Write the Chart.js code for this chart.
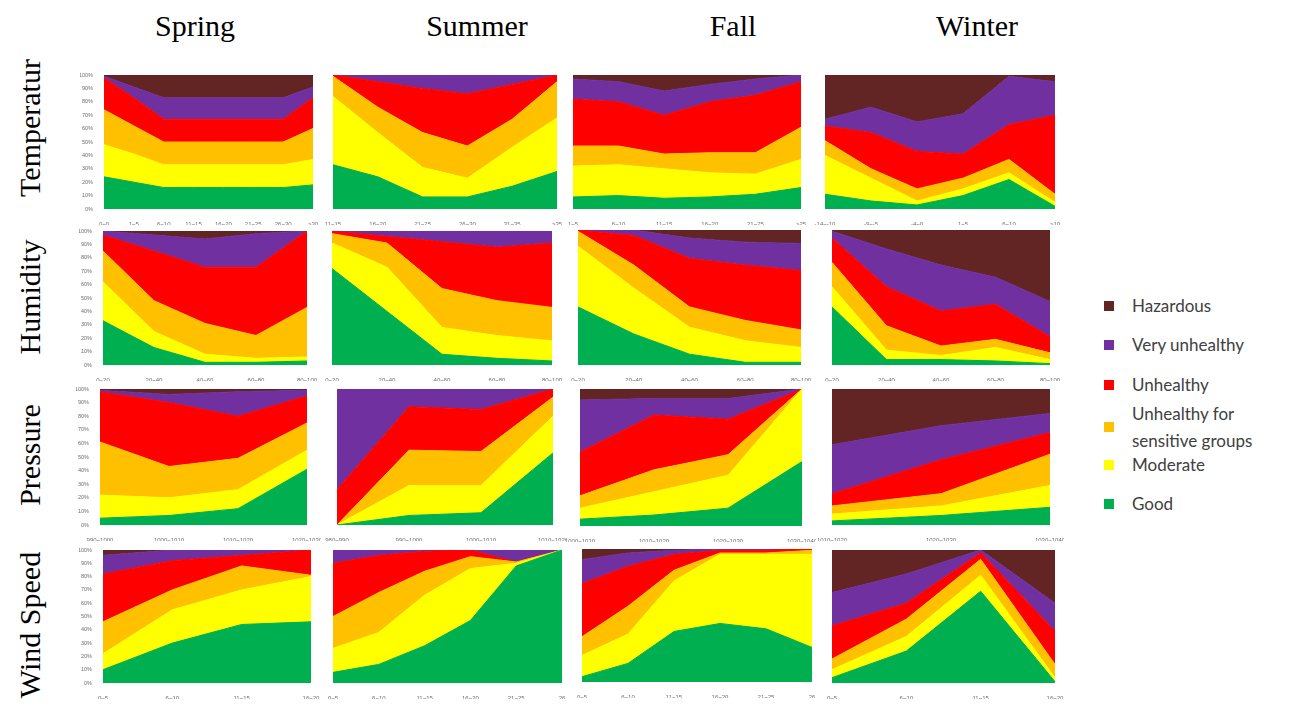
<!DOCTYPE html>
<html>
<head>
<meta charset="utf-8">
<script src="https://cdn.jsdelivr.net/npm/chart.js@4.4.1/dist/chart.umd.min.js"></script>
<style>
  body { margin: 0; width: 1299px; height: 708px; background: #fff; position: relative; overflow: hidden;
         font-family: "Liberation Serif", "Times New Roman", serif; }
  .panel { position: absolute; }
  .col-title { position: absolute; top: 9px; font-size: 30px; transform: translateX(-50%); white-space: nowrap; color: #000; }
  .row-title { position: absolute; font-size: 30px; transform: translate(-50%, -50%) rotate(-90deg); white-space: nowrap; color: #000; }
  .legend-item { position: absolute; left: 1104px; font-family: Lato, "Open Sans", sans-serif; font-size: 17px; color: #404040; line-height: 27px; }
  .legend-item span.box { position: absolute; left: 0; width: 10px; height: 10px; }
  .legend-item span.txt { position: absolute; left: 28px; white-space: nowrap; }
</style>
</head>
<body>

<div class="col-title" style="left:195px">Spring</div>
<div class="col-title" style="left:477px">Summer</div>
<div class="col-title" style="left:733px">Fall</div>
<div class="col-title" style="left:977px">Winter</div>

<div class="row-title" style="left:30px; top:128px">Temperatur</div>
<div class="row-title" style="left:30px; top:297px">Humidity</div>
<div class="row-title" style="left:30px; top:455px">Pressure</div>
<div class="row-title" style="left:30px; top:625px">Wind Speed</div>

<div id="legend"></div>

<script>
// AQI levels, bottom to top
const levels = ["Good", "Moderate", "Unhealthy for sensitive groups", "Unhealthy", "Very unhealthy", "Hazardous"];
const levelColors = ["#00B050", "#FFFF00", "#FFC000", "#FF0000", "#7030A0", "#632523"];

// x labels
const tempSpringLabels = ["0~0", "1~5", "6~10", "11~15", "16~20", "21~25", "26~30", ">30"];
const tempSummerLabels = ["11~15", "16~20", "21~25", "26~30", "31~35", ">35"];
const tempFallLabels = ["1~5", "6~10", "11~15", "16~20", "21~25", ">25"];
const tempWinterLabels = ["-14~-10", "-9~-5", "-4~0", "1~5", "6~10", ">10"];
const humidityLabels = ["0~20", "20~40", "40~60", "60~80", "80~100"];
const presSpringLabels = ["990~1000", "1000~1010", "1010~1020", "1020~1030"];
const presSummerLabels = ["980~990", "990~1000", "1000~1010", "1010~1020"];
const presFallLabels = ["1000~1010", "1010~1020", "1020~1030", "1030~1040"];
const presWinterLabels = ["1010~1020", "1020~1030", "1030~1040"];
const windShortLabels = ["0~5", "6~10", "11~15", "16~20"];
const windLongLabels = ["0~5", "6~10", "11~15", "16~20", "21~25", "26"];

// shares (%) per level: Good, Moderate, USG, Unhealthy, Very unhealthy, Hazardous
const tempSpring = [
  [24, 20, 16, 16, 16, 16, 16, 18],
  [24, 21, 17, 17, 17, 17, 17, 19],
  [26, 21, 17, 17, 17, 17, 17, 23],
  [24, 21, 17, 17, 17, 17, 17, 23],
  [1, 8, 16, 16, 16, 16, 16, 8],
  [1, 9, 17, 17, 17, 17, 17, 9]
];
const tempSummer = [
  [33, 24, 9, 9, 17, 28],
  [51, 33, 22, 14, 29, 40],
  [15, 19, 26, 24, 21, 27],
  [1, 19, 33, 39, 26, 5],
  [0, 5, 10, 14, 7, 0],
  [0, 0, 0, 0, 0, 0]
];
const tempFall = [
  [9, 10, 8, 9, 11, 16],
  [23, 23, 22, 18, 15, 21],
  [15, 14, 11, 15, 16, 24],
  [35, 33, 29, 38, 43, 34],
  [15, 15, 18, 13, 12, 5],
  [3, 5, 12, 7, 3, 0]
];
const tempWinter = [
  [11, 6, 3, 10, 22, 2],
  [29, 17, 3, 5, 5, 3],
  [11, 7, 9, 8, 10, 6],
  [11, 27, 28, 18, 26, 59],
  [5, 19, 22, 30, 36, 25],
  [33, 24, 35, 29, 1, 5]
];
const humSpring = [
  [33, 13, 2, 2, 3],
  [29, 12, 6, 3, 3],
  [23, 23, 23, 17, 37],
  [12, 37, 42, 51, 57],
  [3, 12, 21, 25, 0],
  [0, 3, 6, 2, 0]
];
const humSummer = [
  [72, 40, 8, 5, 3],
  [19, 33, 20, 17, 15],
  [7, 18, 29, 26, 25],
  [2, 5, 35, 40, 48],
  [0, 4, 8, 12, 9],
  [0, 0, 0, 0, 0]
];
const humFall = [
  [43, 23, 8, 2, 2],
  [45, 34, 20, 16, 11],
  [11, 17, 15, 15, 13],
  [1, 22, 36, 41, 44],
  [0, 4, 15, 17, 20],
  [0, 0, 6, 9, 10]
];
const humWinter = [
  [43, 4, 4, 3, 1],
  [15, 7, 3, 10, 3],
  [18, 18, 7, 6, 5],
  [18, 29, 26, 26, 12],
  [5, 28, 34, 20, 26],
  [1, 14, 26, 35, 53]
];
const presSpring = [
  [5, 7, 12, 41],
  [17, 13, 14, 14],
  [39, 23, 23, 20],
  [37, 47, 31, 20],
  [1, 6, 18, 4],
  [1, 4, 2, 1]
];
const presSummer = [
  [0, 7, 9, 53],
  [0, 22, 20, 27],
  [0, 26, 25, 14],
  [26, 32, 31, 6],
  [74, 13, 15, 0],
  [0, 0, 0, 0]
];
const presFall = [
  [5, 8, 13, 47],
  [8, 17, 24, 53],
  [9, 16, 15, 0],
  [32, 40, 26, 0],
  [38, 12, 15, 0],
  [8, 7, 7, 0]
];
const presWinter = [
  [3, 7, 13],
  [5, 7, 16],
  [6, 9, 23],
  [9, 25, 16],
  [36, 25, 14],
  [41, 27, 18]
];
const windSpring = [
  [10, 30, 44, 46],
  [12, 25, 26, 34],
  [24, 15, 18, 1],
  [36, 22, 8, 19],
  [14, 8, 4, 0],
  [4, 0, 0, 0]
];
const windSummer = [
  [8, 14, 28, 47, 88, 100],
  [18, 24, 38, 39, 2, 0],
  [24, 30, 18, 9, 1, 0],
  [40, 28, 15, 5, 0, 0],
  [10, 4, 1, 0, 9, 0],
  [0, 0, 0, 0, 0, 0]
];
const windFall = [
  [4, 14, 38, 44, 40, 26],
  [16, 22, 38, 52, 56, 70],
  [14, 21, 8, 1, 1, 3],
  [40, 30, 12, 2, 2, 1],
  [18, 10, 3, 1, 1, 0],
  [8, 3, 1, 0, 0, 0]
];
const windWinter = [
  [4, 24, 69, 1],
  [6, 11, 12, 3],
  [8, 13, 12, 10],
  [25, 12, 5, 25],
  [25, 22, 2, 21],
  [32, 18, 0, 40]
];

// plot areas on the page: [left, top, right, bottom]
const panels = [
  { labels: tempSpringLabels, values: tempSpring, rect: [104, 75, 313, 209], yAxis: true },
  { labels: tempSummerLabels, values: tempSummer, rect: [333, 75, 557, 209] },
  { labels: tempFallLabels, values: tempFall, rect: [573, 75, 801, 209] },
  { labels: tempWinterLabels, values: tempWinter, rect: [825, 75, 1055, 209] },
  { labels: humidityLabels, values: humSpring, rect: [103, 231, 307, 365], yAxis: true },
  { labels: humidityLabels, values: humSummer, rect: [332, 231, 552, 365] },
  { labels: humidityLabels, values: humFall, rect: [578, 230, 801, 365] },
  { labels: humidityLabels, values: humWinter, rect: [832, 230, 1050, 365] },
  { labels: presSpringLabels, values: presSpring, rect: [100, 389, 307, 525], yAxis: true },
  { labels: presSummerLabels, values: presSummer, rect: [337, 389, 553, 525] },
  { labels: presFallLabels, values: presFall, rect: [580, 389, 802, 526] },
  { labels: presWinterLabels, values: presWinter, rect: [832, 389, 1050, 525] },
  { labels: windShortLabels, values: windSpring, rect: [103, 550, 311, 683], yAxis: true },
  { labels: windLongLabels, values: windSummer, rect: [333, 550, 562, 683] },
  { labels: windLongLabels, values: windFall, rect: [582, 549, 812, 682] },
  { labels: windShortLabels, values: windWinter, rect: [832, 550, 1055, 683] }
];

const Y_AXIS_W = 24;
const X_AXIS_H = 16;
const SIDE = 14;
const TOP = 4;

function drawPanel(p, idx) {
  const [x0, y0, x1, y1] = p.rect;
  const left = p.yAxis ? Y_AXIS_W : SIDE;
  const div = document.createElement('div');
  div.className = 'panel';
  div.style.left = (x0 - left) + 'px';
  div.style.top = (y0 - TOP) + 'px';
  div.style.width = (x1 - x0 + left + SIDE) + 'px';
  div.style.height = (y1 - y0 + TOP + X_AXIS_H) + 'px';
  const canvas = document.createElement('canvas');
  canvas.id = 'panel-' + idx;
  div.appendChild(canvas);
  document.body.appendChild(div);

  new Chart(canvas.getContext('2d'), {
    type: 'line',
    data: {
      labels: p.labels,
      datasets: p.values.map((vals, i) => ({
        label: levels[i],
        data: vals,
        backgroundColor: levelColors[i],
        borderColor: levelColors[i],
        borderWidth: 1,
        pointRadius: 0,
        tension: 0,
        fill: i === 0 ? 'origin' : '-1'
      }))
    },
    options: {
      responsive: true,
      maintainAspectRatio: false,
      animation: false,
      devicePixelRatio: 1,
      layout: { padding: { left: p.yAxis ? 0 : SIDE, right: SIDE, top: TOP, bottom: 0 } },
      plugins: { legend: { display: false }, tooltip: { enabled: false } },
      scales: {
        x: {
          type: 'category',
          offset: false,
          grid: { display: false },
          border: { display: false },
          ticks: { autoSkip: false, maxRotation: 0, padding: 4, color: '#6e6e6e',
                   font: { family: 'Liberation Sans', size: 6 } },
          afterFit: s => { s.height = X_AXIS_H; s.paddingLeft = 0; s.paddingRight = 0; }
        },
        y: {
          display: !!p.yAxis,
          stacked: true,
          min: 0,
          max: 100,
          grid: { display: false },
          border: { display: false },
          ticks: { stepSize: 10, padding: 3, color: '#6e6e6e', callback: v => v + '%',
                   font: { family: 'Liberation Sans', size: 5.5 } },
          afterFit: s => {
            if (p.yAxis) s.width = Y_AXIS_W;
            s.paddingTop = 0;
            s.paddingBottom = 0;
          }
        }
      }
    }
  });
}

panels.forEach(drawPanel);

// legend, top to bottom
const legendRows = [
  { level: 5, top: 292, text: 'Hazardous' },
  { level: 4, top: 331, text: 'Very unhealthy' },
  { level: 3, top: 371, text: 'Unhealthy' },
  { level: 2, top: 400, text: 'Unhealthy for<br>sensitive groups' },
  { level: 1, top: 451, text: 'Moderate' },
  { level: 0, top: 490, text: 'Good' }
];
const legend = document.getElementById('legend');
legendRows.forEach(r => {
  const item = document.createElement('div');
  item.className = 'legend-item';
  item.style.top = r.top + 'px';
  const twoLines = r.text.includes('<br>');
  item.innerHTML = `<span class="box" style="background:${levelColors[r.level]};top:${twoLines ? 22 : 9}px"></span>` +
                   `<span class="txt">${r.text}</span>`;
  legend.appendChild(item);
});
</script>
</body>
</html>
